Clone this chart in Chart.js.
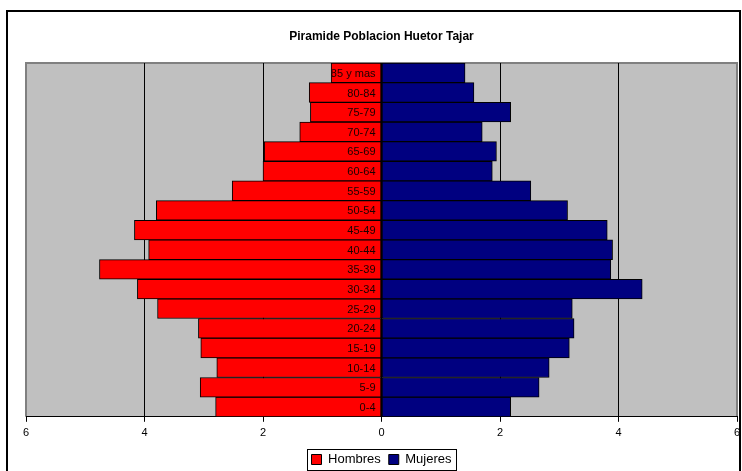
<!DOCTYPE html>
<html>
<head>
<meta charset="utf-8">
<script src="https://cdn.jsdelivr.net/npm/chart.js@4"></script>
<style>
  html, body { margin: 0; padding: 0; background: #fff; }
  #wrap { position: relative; width: 742px; height: 471px; }
</style>
</head>
<body>
<div id="wrap"><canvas id="piramide" width="742" height="471"></canvas></div>
<script>
// grupos de edad (de abajo hacia arriba)
const grupos = ['0-4', '5-9', '10-14', '15-19', '20-24', '25-29', '30-34', '35-39', '40-44',
  '45-49', '50-54', '55-59', '60-64', '65-69', '70-74', '75-79', '80-84', '85 y mas'];
// porcentajes
const hombres = [2.80, 3.06, 2.78, 3.05, 3.09, 3.78, 4.12, 4.76, 3.93,
  4.17, 3.80, 2.52, 2.00, 1.98, 1.38, 1.20, 1.22, 0.85];
const mujeres = [2.18, 2.66, 2.83, 3.17, 3.25, 3.22, 4.40, 3.87, 3.90,
  3.81, 3.14, 2.52, 1.87, 1.94, 1.70, 2.18, 1.56, 1.41];
const ticksX = [-6, -4, -2, 0, 2, 4, 6];

// fondo gris del area de trazado y marco exterior
const fondoPlugin = {
  id: 'fondo',
  beforeDraw(chart) {
    const ctx = chart.ctx;
    const a = chart.chartArea;
    ctx.save();
    // marco exterior
    ctx.strokeStyle = '#000';
    ctx.lineWidth = 2;
    ctx.beginPath();
    ctx.moveTo(7, 471);
    ctx.lineTo(7, 11);
    ctx.lineTo(740, 11);
    ctx.lineTo(740, 471);
    ctx.stroke();
    // area gris
    ctx.fillStyle = '#C0C0C0';
    ctx.fillRect(a.left, a.top, a.right - a.left, a.bottom - a.top);
    ctx.strokeStyle = '#808080';
    ctx.lineWidth = 2;
    ctx.beginPath();
    ctx.moveTo(a.left, a.bottom);
    ctx.lineTo(a.left, a.top);
    ctx.lineTo(a.right, a.top);
    ctx.lineTo(a.right, a.bottom);
    ctx.stroke();
    ctx.restore();
  }
};

// etiquetas de edad junto al eje central y borde de la leyenda
const etiquetasPlugin = {
  id: 'etiquetas',
  afterDraw(chart) {
    const ctx = chart.ctx;
    const x = chart.scales.x;
    const y = chart.scales.y;
    const x0 = x.getPixelForValue(0);
    ctx.save();
    ctx.font = '11px Arial, "Liberation Sans", sans-serif';
    ctx.fillStyle = '#1a0000';
    ctx.textAlign = 'right';
    ctx.textBaseline = 'middle';
    grupos.forEach(function(g, i) {
      ctx.fillText(g, x0 - 6, y.getPixelForValue(i) + 1);
    });
    // borde de la leyenda
    const cajas = chart.legend.legendHitBoxes;
    if (cajas && cajas.length) {
      let l = Infinity, r = -Infinity, t = Infinity, b = -Infinity;
      cajas.forEach(function(c) {
        l = Math.min(l, c.left); r = Math.max(r, c.left + c.width);
        t = Math.min(t, c.top); b = Math.max(b, c.top + c.height);
      });
      ctx.strokeStyle = '#000';
      ctx.lineWidth = 1;
      ctx.strokeRect(Math.round(l - 5) + 0.5, Math.round(t - 4) + 0.5, Math.round(r - l + 9), Math.round(b - t + 8));
    }
    ctx.restore();
  }
};

new Chart(document.getElementById('piramide'), {
  type: 'bar',
  data: {
    labels: grupos,
    datasets: [{
      label: 'Hombres',
      data: hombres.map(function(v) { return -v; }),
      backgroundColor: '#FF0000',
      borderColor: '#000',
      borderWidth: 1,
      borderSkipped: false,
      barPercentage: 1,
      categoryPercentage: 1
    }, {
      label: 'Mujeres',
      data: mujeres,
      backgroundColor: '#000080',
      borderColor: '#000',
      borderWidth: 1,
      borderSkipped: false,
      barPercentage: 1,
      categoryPercentage: 1
    }]
  },
  options: {
    indexAxis: 'y',
    responsive: false,
    animation: false,
    layout: { padding: { left: 26, right: 5, top: 0, bottom: -5 } },
    scales: {
      x: {
        stacked: true,
        min: -6,
        max: 6,
        afterBuildTicks(axis) {
          axis.ticks = ticksX.map(function(v) { return { value: v }; });
        },
        afterFit(axis) {
          axis.paddingRight = 0;
          axis.paddingLeft = 0;
        },
        ticks: {
          color: '#000',
          font: { family: 'Arial, "Liberation Sans", sans-serif', size: 11 },
          padding: 5,
          maxRotation: 0,
          callback: function(v) { return Math.abs(v); }
        },
        grid: {
          color: function(c) {
            return Math.abs(c.tick.value) === 6 ? 'rgba(0,0,0,0)' : '#000';
          },
          lineWidth: 1,
          tickLength: 5,
          tickColor: '#000',
          drawOnChartArea: true
        },
        border: { color: '#000', width: 1 }
      },
      y: {
        stacked: true,
        reverse: true,
        display: false
      }
    },
    plugins: {
      title: {
        display: true,
        text: 'Piramide Poblacion Huetor Tajar',
        color: '#000',
        font: { family: 'Arial, "Liberation Sans", sans-serif', size: 12, weight: 'bold' },
        padding: { top: 29, bottom: 19.6 }
      },
      legend: {
        position: 'bottom',
        labels: {
          color: '#000',
          font: { family: 'Arial, "Liberation Sans", sans-serif', size: 13 },
          boxWidth: 10,
          boxHeight: 10,
          padding: 8
        }
      },
      tooltip: { enabled: false }
    }
  },
  plugins: [fondoPlugin, etiquetasPlugin]
});
</script>
</body>
</html>
